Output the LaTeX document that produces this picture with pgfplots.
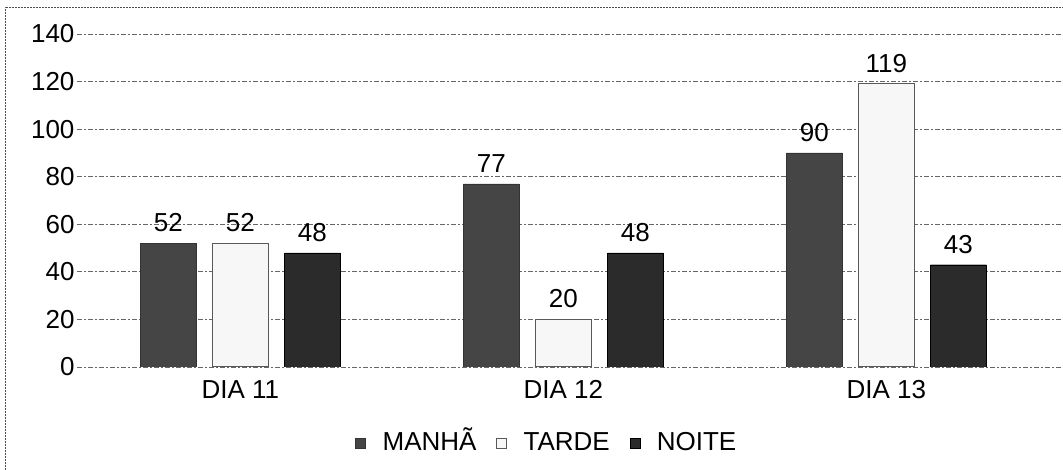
\documentclass[border=0pt]{standalone}
\usepackage{pgfplots}
\pgfplotsset{compat=1.18}
\usepackage{fontspec}
\setmainfont{Liberation Sans}
\definecolor{manha}{gray}{0.27}
\definecolor{noite}{gray}{0.17}
\definecolor{tardefill}{gray}{0.97}
\definecolor{tardedraw}{gray}{0.35}
\newcommand{\bigf}{\fontsize{26}{31}\selectfont}
\begin{document}
\begin{tikzpicture}[x=1pt,y=1pt]
\useasboundingbox (-77,-103) rectangle (986,367);
\begin{axis}[
  at={(0,0)}, anchor=south west,
  scale only axis, width=986pt, height=333pt,
  xmin=-0.506, xmax=2.547, ymin=0, ymax=140,
  ytick={0,20,...,140},
  xtick={0,1,2}, xticklabels={DIA 11,DIA 12,DIA 13},
  axis line style={draw=none}, tick style={draw=none},
  ymajorgrids, grid style={black!60, line width=0.8pt, dash pattern=on 5pt off 2pt on 2pt off 2pt},
  font=\bigf,
  ticklabel style={font=\bigf},
  /pgf/number format/assume math mode=true,
  xticklabel style={yshift=-6pt},
  yticklabel style={xshift=1pt},
  ybar, bar width=56pt,
  nodes near coords,
  every node near coord/.append style={font=\bigf, inner sep=0pt, yshift=11pt, black},
  legend columns=-1,
  legend style={draw=none, fill=none, at={(0.4675,-0.237)}, anchor=center, font=\bigf},
  legend image code/.code={\draw[#1] (0pt,3.5pt) rectangle (10pt,13.5pt); \path[draw=none,fill=none] (-18pt,8pt) -- (25pt,8pt);},
]
\addplot[fill=manha, draw=black!80, bar shift=-72pt] coordinates {(0,52) (1,77) (2,90)};
\addplot[fill=tardefill, draw=tardedraw, line width=1pt, bar shift=0pt] coordinates {(0,52) (1,20) (2,119)};
\addplot[fill=noite, draw=black, bar shift=72pt] coordinates {(0,48) (1,48) (2,43)};
\legend{\smash{MANHÃ}, \smash{TARDE}, \smash{NOITE}}
\end{axis}
\draw[black!70, line width=1pt, dash pattern=on 2pt off 1pt] (-71,-103) -- (-71,359) -- (986,359);
\end{tikzpicture}
\end{document}
